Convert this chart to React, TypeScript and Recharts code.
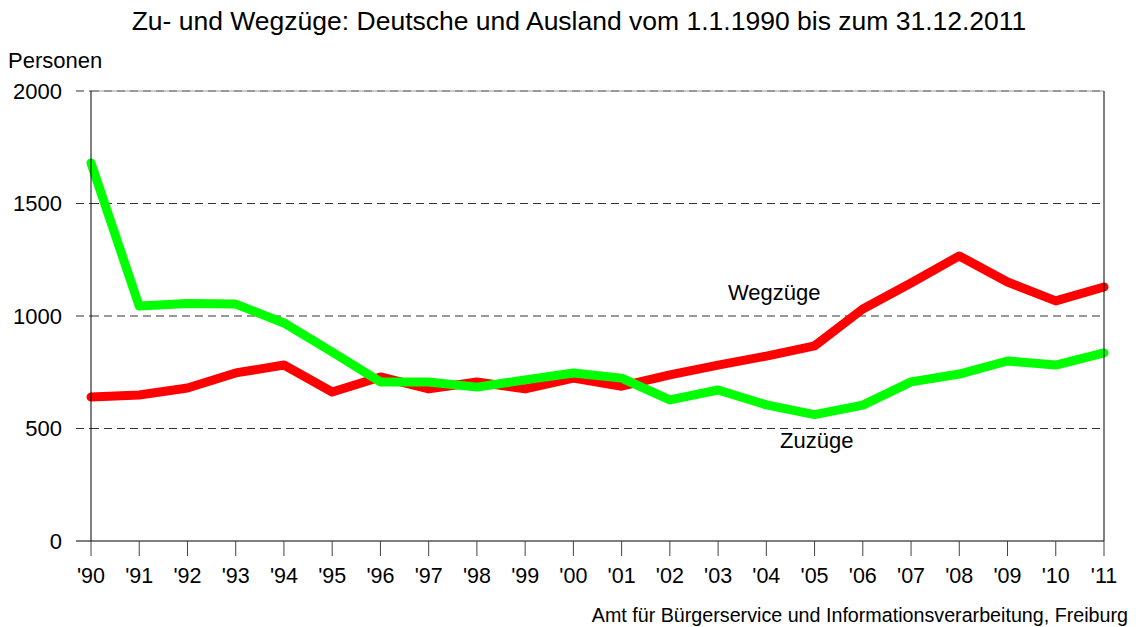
import React from "react";
import {CartesianGrid, Line, LineChart, ReferenceLine, XAxis, YAxis} from "recharts";

const years = ["'90", "'91", "'92", "'93", "'94", "'95", "'96", "'97", "'98", "'99", "'00", "'01", "'02", "'03", "'04", "'05", "'06", "'07", "'08", "'09", "'10", "'11"];
const zuzuege = [1680, 1044, 1056, 1053, 969, 840, 707, 707, 684, 716, 747, 724, 627, 671, 605, 562, 604, 707, 742, 800, 782, 836];
const wegzuege = [640, 649, 680, 747, 782, 662, 729, 676, 707, 676, 724, 688, 738, 782, 822, 867, 1031, 1147, 1267, 1151, 1067, 1129];
const yTicks = [0, 500, 1000, 1500, 2000];
const gridValues = [500, 1000, 1500, 2000];

const data = years.map((year, i) => ({year, zu: zuzuege[i], weg: wegzuege[i]}));

const FONT = "'Liberation Sans', Arial, sans-serif";

function YTick(props: any) {
    const {x, y, payload} = props;
    const isZero = payload.value === 0;
    return (
        <g>
            <line x1={x - 15} x2={x} y1={y} y2={y}
                  stroke={isZero ? "#000" : "#333"}
                  strokeDasharray={isZero ? undefined : "8 5"}/>
            <text x={x - 29} y={y} dy="0.35em" textAnchor="end" fontSize={22} fill="#000" fontFamily={FONT}>
                {payload.value}
            </text>
        </g>
    );
}

function XTick(props: any) {
    const {x, y, payload} = props;
    return (
        <text x={x} y={y} dy="0.71em" textAnchor="middle" fontSize={21.5} fill="#000" fontFamily={FONT}>
            {payload.value}
        </text>
    );
}

export default function App() {
    return (
        <div style={{position: "absolute", left: 0, top: 0, width: 1136, height: 627, background: "#fff", fontFamily: FONT}}>
            <LineChart width={1136} height={627} data={data}
                       margin={{top: 91, right: 0, bottom: 26, left: 0}}>
                <ReferenceLine yAxisId="left" y={2000} stroke="#999" strokeWidth={1}/>
                <CartesianGrid yAxisId="left" vertical={false} horizontal horizontalValues={gridValues}
                               stroke="#333" strokeDasharray="8 5"/>
                <XAxis dataKey="year" height={60} axisLine={{stroke: "#000"}}
                       tickLine={{stroke: "#444"}} tickSize={15} tickMargin={12}
                       tick={<XTick/>} interval={0}/>
                <YAxis yAxisId="left" width={91} domain={[0, 2000]} ticks={yTicks}
                       axisLine={{stroke: "#000"}} tickLine={false} tickSize={0} tickMargin={0}
                       tick={<YTick/>}/>
                <YAxis yAxisId="right" orientation="right" width={32} domain={[0, 2000]}
                       axisLine={{stroke: "#000"}} tick={false} tickLine={false}/>
                <Line yAxisId="left" dataKey="weg" stroke="#ff0000" strokeWidth={9}
                      strokeLinecap="round" strokeLinejoin="round" dot={false} isAnimationActive={false}/>
                <Line yAxisId="left" dataKey="zu" stroke="#00ff00" strokeWidth={9}
                      strokeLinecap="round" strokeLinejoin="round" dot={false} isAnimationActive={false}/>
            </LineChart>
            <div style={{position: "absolute", left: 11, width: 1136, top: 6, textAlign: "center", fontSize: 26.5}}>
                Zu- und Wegzüge: Deutsche und Ausland vom 1.1.1990 bis zum 31.12.2011
            </div>
            <div style={{position: "absolute", left: 8, top: 48, fontSize: 22}}>Personen</div>
            <div style={{position: "absolute", left: 728, top: 280, fontSize: 22}}>Wegzüge</div>
            <div style={{position: "absolute", left: 780, top: 428, fontSize: 22}}>Zuzüge</div>
            <div style={{position: "absolute", right: 8, top: 604, fontSize: 19.7}}>
                Amt für Bürgerservice und Informationsverarbeitung, Freiburg
            </div>
        </div>
    );
}
